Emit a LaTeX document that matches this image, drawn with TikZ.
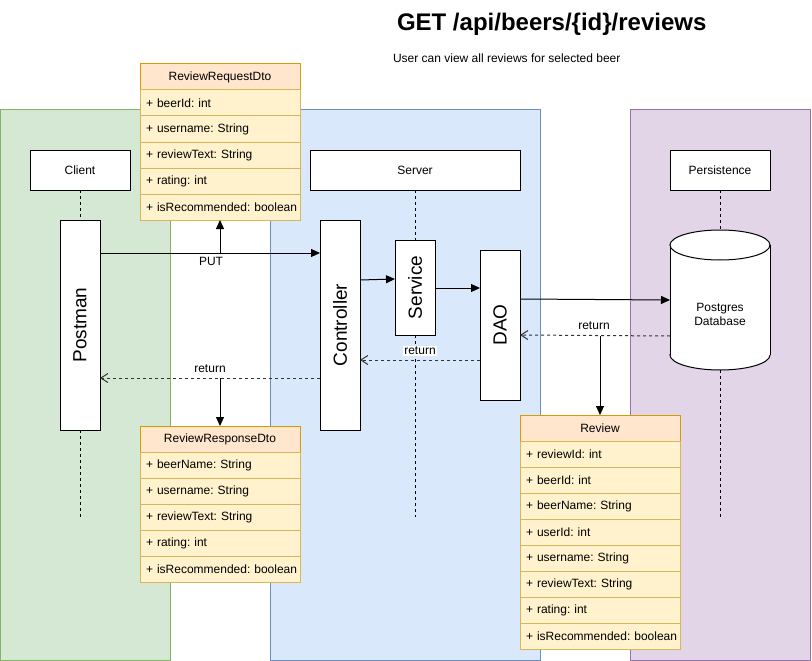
\documentclass[tikz,border=0pt]{standalone}
\usepackage{fontspec}
\setmainfont{Liberation Sans}
\usetikzlibrary{arrows.meta}
\frenchspacing
\definecolor{gfill}{HTML}{D5E8D4}\definecolor{gline}{HTML}{82B366}
\definecolor{bfill}{HTML}{DAE8FC}\definecolor{bline}{HTML}{6C8EBF}
\definecolor{pfill}{HTML}{E1D5E7}\definecolor{pline}{HTML}{9673A6}
\definecolor{hfill}{HTML}{FFE6CC}\definecolor{hline}{HTML}{D79B00}
\definecolor{rfill}{HTML}{FFF2CC}\definecolor{rline}{HTML}{D6B656}
\tikzset{
  every node/.style={font=\fontsize{12}{14}\selectfont\frenchspacing, inner sep=0pt, outer sep=0pt},
  lane/.style={draw, anchor=north west, minimum height=550pt},
  hbox/.style={draw, fill=white, minimum height=40pt},
  actbox/.style={draw, fill=white, minimum width=40pt},
  biglabel/.style={font=\fontsize{19}{22}\selectfont, rotate=90},
  clshead/.style={draw=hline, fill=hfill, minimum width=160pt, minimum height=26pt},
  clsrow/.style={draw=rline, fill=rfill, minimum width=160pt, minimum height=26pt,
                 text width=148pt, inner xsep=6pt, align=left},
  call/.style={-{Triangle[length=9pt,width=8pt]}},
  ret/.style={dash pattern=on 3pt off 3pt, draw=black!80, -{Straight Barb[length=7pt,width=9pt]}},
  life/.style={dash pattern=on 3pt off 3pt},
}
\begin{document}
\begin{tikzpicture}[x=1pt,y=-1pt,line width=1pt]
\useasboundingbox (0,0) rectangle (812,661);
% lanes
\node[lane, fill=gfill, draw=gline, minimum width=170pt] (laneC) at (0.5,110) {};
\node[lane, fill=bfill, draw=bline, minimum width=270pt] (laneS) at (270,110) {};
\node[lane, fill=pfill, draw=pline, minimum width=180pt] (laneP) at (630,110) {};
% title
\node[anchor=base west, font=\bfseries\fontsize{24}{28}\selectfont] (title) at (397,31) {GET /api/beers/\{id\}/reviews};
\node[anchor=base west] (subtitle) at (393,63) {User can view all reviews for selected beer};
% headers
\node[hbox, minimum width=100pt] (client) at (80,170) {Client};
\node[hbox, minimum width=210pt] (server) at (415,170) {Server};
\node[hbox, minimum width=100pt] (persist) at (720,170) {Persistence};
% activation boxes
\node[actbox, minimum height=210pt, label={[biglabel]center:Postman}] (postman) at (80,325) {};
\node[actbox, minimum height=210pt, label={[biglabel]center:Controller}] (controller) at (340,325) {};
\node[actbox, minimum height=95pt, label={[biglabel]center:Service}] (service) at (415,287.5) {};
\node[actbox, minimum height=150pt, label={[biglabel]center:DAO}] (dao) at (500,325) {};
% database cylinder
\node[minimum width=100pt, minimum height=140pt] (db) at (720,300) {};
\draw[fill=white] (720,355) ellipse [x radius=50pt, y radius=15pt];
\fill[white] (670,245) rectangle (770,355);
\draw (670,245) -- (670,355) (770,245) -- (770,355);
\draw[fill=white] (720,245) ellipse [x radius=50pt, y radius=15pt];
\node[align=center, font=\fontsize{12}{14}\selectfont] (dbtext) at (720,314) {Postgres\\Database};
% lifeline ends
\coordinate (cend) at (80,517);
\coordinate (send) at (415,517);
\coordinate (pend) at (720,517);
\draw[life] (client.south) -- (postman.north) (postman.south) -- (cend);
\draw[life] (server.south) -- (service.north) (service.south) -- (send);
\draw[life] (persist.south) -- (db.north) (db.south) -- (pend);
% request dto
\node[clshead] (reqh) at (220,77) {ReviewRequestDto};
\foreach \t [count=\i] in {beerId: int, username: String, reviewText: String, rating: int, isRecommended: boolean}
  \node[clsrow] (req\i) at (220,{77+26*\i}) {\mbox{+ \t}};
% response dto
\node[clshead] (resh) at (220,439) {ReviewResponseDto};
\foreach \t [count=\i] in {beerName: String, username: String, reviewText: String, rating: int, isRecommended: boolean}
  \node[clsrow] (res\i) at (220,{439+26*\i}) {\mbox{+ \t}};
% review entity
\node[clshead] (revh) at (600,428) {Review};
\foreach \t [count=\i] in {reviewId: int, beerId: int, beerName: String, userId: int, username: String, reviewText: String, rating: int, isRecommended: boolean}
  \node[clsrow] (rev\i) at (600,{428+26*\i}) {\mbox{+ \t}};
% connectors
\coordinate (putsplit) at (220,253);
\coordinate (dbsplit) at (600,336);
\coordinate (retsplit) at (220,378);
\draw[call] (postman.east |- putsplit) -- (controller.west |- putsplit);
\node (put) at (211,261) {PUT};
\draw[call] (putsplit) -- (req5.south);
\draw[call] (controller.east |- 0,280) -- (service.west |- 0,279);
\draw[call] (service.east |- 0,288) -- (dao.west |- 0,288);
\draw[call] (dao.east |- 0,299) -- (db.west |- 0,300);
\draw[ret] (db.west |- dbsplit) -- (dao.east |- 0,335);
\node (ret1) at (594,326) {return};
\draw[call] (dbsplit) -- (revh.north);
\draw[ret] (dao.west |- 0,360) -- (controller.east |- 0,360);
\node[fill=white, inner xsep=1pt, inner ysep=1pt] (ret2) at (420,351) {return};
\draw[ret] (controller.west |- retsplit) -- (postman.east |- retsplit);
\node (ret3) at (210,369) {return};
\draw[call] (retsplit) -- (resh.north);
\end{tikzpicture}
\end{document}
